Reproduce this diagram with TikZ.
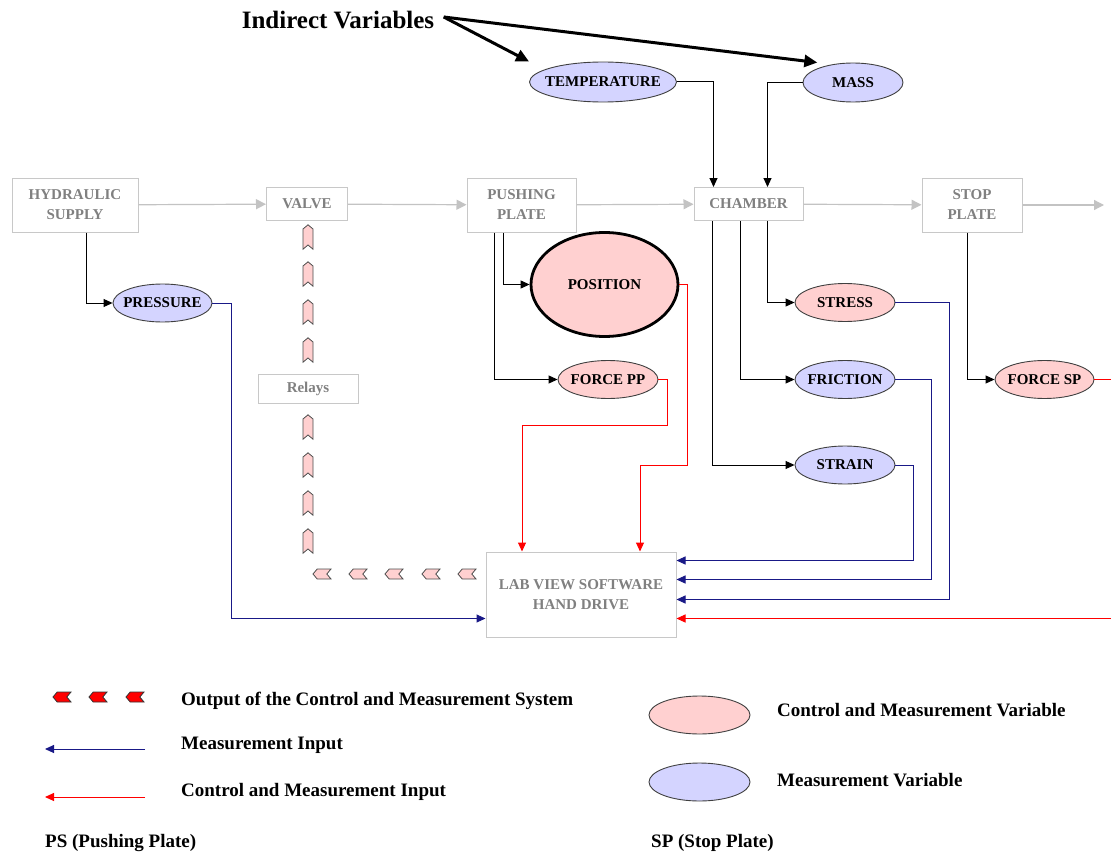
\documentclass[tikz,border=0pt]{standalone}
\usepackage{fontspec}
\setmainfont{Liberation Serif}
\usetikzlibrary{shapes.geometric,shapes.symbols,arrows.meta,positioning}
\definecolor{ctrlpink}{RGB}{255,208,208}
\definecolor{measblue}{RGB}{212,212,255}
\definecolor{navyline}{RGB}{25,25,135}
\definecolor{boxgray}{RGB}{200,200,200}
\definecolor{flowgray}{RGB}{195,195,195}
\definecolor{labelgray}{RGB}{128,128,128}
\tikzset
{
	plantbox/.style = {rectangle, draw=boxgray, line width=1pt, text=labelgray, align=center, inner sep=2pt, font=\fontsize{15}{20}\selectfont\bfseries},
	measvar/.style  = {ellipse, draw=black!75, line width=0.9pt, fill=measblue, inner ysep=0pt, inner xsep=-20pt, font=\fontsize{15}{17}\selectfont\bfseries},
	ctrlvar/.style  = {ellipse, draw=black!75, line width=0.9pt, fill=ctrlpink, inner ysep=0pt, inner xsep=-20pt, font=\fontsize{15}{17}\selectfont\bfseries},
	upsig/.style    = {signal, signal to=north, signal from=south, signal pointer angle=100, draw=black!70, line width=0.8pt, fill=ctrlpink, inner sep=0pt, minimum width=10, minimum height=16},
	leftsig/.style  = {signal, signal to=west, signal from=east, signal pointer angle=100, draw=black!70, line width=0.8pt, fill=ctrlpink, inner sep=0pt, minimum width=18, minimum height=10},
	legtext/.style  = {anchor=west, inner sep=0pt, font=\fontsize{19}{21}\selectfont\bfseries},
	flow/.style     = {draw=flowgray, line width=1.2pt, -{Triangle[length=10pt,width=10pt]}},
	feed/.style     = {draw=black, line width=1pt, -{Triangle[length=9pt,width=8pt]}},
	measline/.style = {draw=navyline, line width=1pt, -{Triangle[length=9pt,width=8pt]}},
	ctrlline/.style = {draw=red, line width=1pt, -{Triangle[length=9pt,width=8pt]}},
	pointer/.style  = {draw=black, line width=3pt, -{Triangle[length=13pt,width=12pt]}}
}

\begin{document}
\begin{tikzpicture}[x=1pt,y=-1pt]
\clip (0,0) rectangle (1111,856);

% plant chain
\node[plantbox, minimum width=126, minimum height=54] (hyd) at (75,205) {HYDRAULIC\\SUPPLY};
\node[plantbox, minimum width=81, minimum height=33] (valve) at (307,204) {VALVE};
\node[plantbox, minimum width=109, minimum height=54] (push) at (521.5,205) {PUSHING\\PLATE};
\node[plantbox, minimum width=109, minimum height=33] (chamber) at (748.5,204) {CHAMBER};
\node[plantbox, minimum width=100, minimum height=54] (stop) at (972,205) {STOP\\PLATE};
\coordinate (exit) at (1104,205);
\node[plantbox, minimum width=100, minimum height=29] (relays) at (308,389) {Relays};
\node[plantbox, minimum width=190, minimum height=85] (lab) at (581,594.5) {LAB VIEW SOFTWARE\\HAND DRIVE};

\draw[flow] (hyd) -- (valve);
\draw[flow] (valve) -- (push);
\draw[flow] (push) -- (chamber);
\draw[flow] (chamber) -- (stop);
\draw[flow] (stop) -- (exit);

% variables
\node[font=\fontsize{25}{27}\selectfont\bfseries] (indirect) at (338,20) {Indirect Variables};
\node[measvar, minimum width=147, minimum height=40] (temp) at (603,82) {TEMPERATURE};
\node[measvar, minimum width=100, minimum height=39] (mass) at (853,82.5) {MASS};
\node[measvar, minimum width=99, minimum height=38] (pres) at (162.5,303) {PRESSURE};
\node[ctrlvar, minimum width=147, minimum height=104, draw=black, line width=2.8pt] (posn) at (604.5,284.5) {POSITION};
\node[ctrlvar, minimum width=100, minimum height=38] (fpp) at (608,379.5) {FORCE PP};
\node[ctrlvar, minimum width=100, minimum height=38] (stress) at (845,302.5) {STRESS};
\node[measvar, minimum width=100, minimum height=38] (fric) at (845,379.5) {FRICTION};
\node[measvar, minimum width=100, minimum height=38] (strain) at (845,465) {STRAIN};
\node[ctrlvar, minimum width=99, minimum height=38] (fsp) at (1044.5,379.5) {FORCE SP};

\draw[pointer] ([xshift=6,yshift=3]indirect.east) -- (temp.west |- temp.north);
\draw[pointer] ([xshift=6,yshift=3]indirect.east) -- (mass.north west |- mass.north);

\draw[feed] (temp.east) -| ([xshift=-35]chamber.north);
\draw[feed] (mass.west) -| ([xshift=19]chamber.north);
\draw[feed] ([xshift=11]hyd.south) |- (pres.west);
\draw[feed] ([xshift=-18.5]push.south) |- (posn.west);
\draw[feed] ([xshift=-27.5]push.south) |- (fpp.west);
\draw[feed] ([xshift=19]chamber.south) |- (stress.west);
\draw[feed] ([xshift=-8]chamber.south) |- (fric.west);
\draw[feed] ([xshift=-36]chamber.south) |- (strain.west);
\draw[feed] ([xshift=-5]stop.south) |- (fsp.west);

% inputs to the software
\draw[measline] (pres.east) -- ++(19,0) |- ([yshift=-24]lab.west);
\draw[ctrlline] (posn.east) -- ++(8,0) -- ++(0,181) -| ([xshift=59]lab.north);
\draw[ctrlline] (fpp.east) -- ++(9,0) -- ++(0,46) -| ([xshift=-59]lab.north);
\draw[measline] (strain.east) -- ++(18,0) |- ([yshift=34]lab.east);
\draw[measline] (fric.east) -- ++(36,0) |- ([yshift=15]lab.east);
\draw[measline] (stress.east) -- ++(54,0) |- ([yshift=-5]lab.east);
\draw[ctrlline] (fsp.east) -- ++(40,0) |- ([yshift=-24]lab.east);

% outputs to the valve
\foreach \y in {237,274,312,350,427,465,503,541}
	\node[upsig] (up-\y) at (308,\y) {};
\foreach \x in {322,358,394,431,467}
	\node[leftsig] (out-\x) at (\x,574) {};

% legend
\foreach \x in {62,98,135}
	\node[leftsig, fill=red, draw=black!80] (key-\x) at (\x,697) {};
\node[legtext] (keyout) at (181,701) {Output of the Control and Measurement System};
\coordinate (mi-a) at (145,749);
\coordinate (mi-b) at (45,749);
\draw[measline] (mi-a) -- (mi-b);
\node[legtext] (keymi) at (181,745) {Measurement Input};
\coordinate (ci-a) at (145,797);
\coordinate (ci-b) at (45,797);
\draw[ctrlline] (ci-a) -- (ci-b);
\node[legtext] (keyci) at (181,792) {Control and Measurement Input};
\node[legtext] (keyps) at (45,843) {PS (Pushing Plate)};

\node[ctrlvar, minimum width=101, minimum height=38] (keycv) at (699.5,715) {};
\node[legtext] (keycvt) at (777,710) {Control and Measurement Variable};
\node[measvar, minimum width=101, minimum height=38] (keymv) at (699.5,782) {};
\node[legtext] (keymvt) at (777,780) {Measurement Variable};
\node[legtext] (keysp) at (651,843) {SP (Stop Plate)};
\end{tikzpicture}
\end{document}
